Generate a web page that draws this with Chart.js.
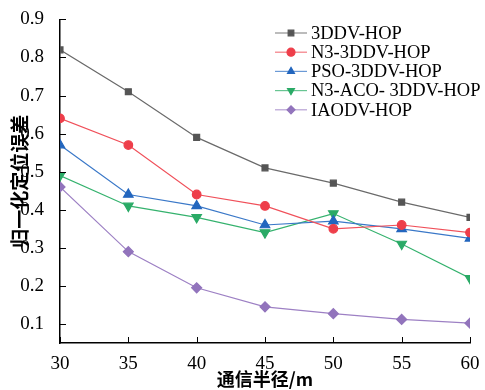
<!DOCTYPE html>
<html lang="zh">
<head>
<meta charset="UTF-8">
<title>归一化定位误差</title>
<script src="https://cdn.jsdelivr.net/npm/chart.js"></script>
<style>
    body { margin: 0; background: #fff; }
    #wrap { width: 485px; height: 390px; }
</style>
</head>
<body>
<div id="wrap"><canvas id="errChart" width="485" height="390"></canvas></div>
<script>
// communication radius (m)
const radius = [30, 35, 40, 45, 50, 55, 60];
const yTicks = [0.1, 0.2, 0.3, 0.4, 0.5, 0.6, 0.7, 0.8, 0.9];

const dv3d     = [0.82, 0.71, 0.59, 0.51, 0.47, 0.42, 0.38];
const n3dv     = [0.64, 0.57, 0.44, 0.41, 0.35, 0.36, 0.34];
const psoDv    = [0.57, 0.44, 0.41, 0.36, 0.37, 0.35, 0.325];
const n3AcoDv  = [0.49, 0.41, 0.38, 0.34, 0.39, 0.31, 0.22];
const iaodv    = [0.46, 0.29, 0.195, 0.145, 0.127, 0.112, 0.102];

const serif = '"Liberation Serif", "DejaVu Serif", serif';
const cjk = '"Noto Sans CJK SC", sans-serif';

function series(label, values, line, fill, style, size, rot) {
    return {
        label: label,
        data: radius.map((x, i) => ({ x: x, y: values[i] })),
        borderColor: line,
        backgroundColor: fill,
        pointBackgroundColor: fill,
        pointBorderColor: fill,
        pointStyle: style,
        pointRadius: size,
        pointRotation: rot || 0,
        borderWidth: 1.2,
        tension: 0
    };
}

// ticks pointing into the plot, like the original figure
const innerTicks = {
    id: 'innerTicks',
    afterDraw(chart) {
        const c = chart.ctx, a = chart.chartArea;
        const xs = chart.scales.x, ys = chart.scales.y;
        c.save();
        c.strokeStyle = '#000';
        c.lineWidth = 1;
        xs.ticks.forEach(t => {
            const px = Math.round(xs.getPixelForValue(t.value)) + 0.5;
            c.beginPath(); c.moveTo(px, a.bottom); c.lineTo(px, a.bottom - 6); c.stroke();
        });
        ys.ticks.forEach(t => {
            const py = Math.round(ys.getPixelForValue(t.value)) + 0.5;
            c.beginPath(); c.moveTo(a.left, py); c.lineTo(a.left + 6, py); c.stroke();
        });
        c.restore();
    }
};

// legend with line-marker-line samples
const lineLegend = {
    id: 'lineLegend',
    afterDraw(chart) {
        const c = chart.ctx;
        const x0 = 275, y0 = 33, gap = 19.2;
        c.save();
        c.font = '18.5px ' + serif;
        c.textBaseline = 'middle';
        chart.data.datasets.forEach((ds, i) => {
            const y = y0 + i * gap;
            c.strokeStyle = ds.borderColor;
            c.globalAlpha = 0.75;
            c.lineWidth = 1.2;
            c.beginPath(); c.moveTo(x0, y); c.lineTo(x0 + 32, y); c.stroke();
            c.globalAlpha = 1;
            c.fillStyle = ds.pointBackgroundColor;
            c.strokeStyle = ds.pointBorderColor;
            Chart.helpers.drawPoint(c, {
                pointStyle: ds.pointStyle, radius: 4, rotation: ds.pointRotation, borderWidth: 1
            }, x0 + 16, y);
            c.fillStyle = '#000';
            c.fillText(ds.label, x0 + 36, y + 1);
        });
        c.restore();
    }
};

new Chart(document.getElementById('errChart'), {
    type: 'line',
    data: {
        datasets: [
            series('3DDV-HOP', dv3d, '#6a6a6a', '#555555', 'rect', 4.2),
            series('N3-3DDV-HOP', n3dv, '#f0505a', '#ee3e4a', 'circle', 4.3),
            series('PSO-3DDV-HOP', psoDv, '#3a78c8', '#2366be', 'triangle', 5.5),
            series('N3-ACO- 3DDV-HOP', n3AcoDv, '#35b26e', '#2aaa66', 'triangle', 5.5, 180),
            series('IAODV-HOP', iaodv, '#9d80c4', '#9274bc', 'rectRot', 5)
        ]
    },
    options: {
        responsive: false,
        animation: false,
        layout: { padding: { top: 13, right: 15, left: 0, bottom: 0 } },
        plugins: { legend: { display: false }, tooltip: { enabled: false } },
        scales: {
            x: {
                type: 'linear',
                min: 30,
                max: 60,
                afterBuildTicks: s => { s.ticks = radius.map(v => ({ value: v })); },
                afterFit: s => { s.height = 47; },
                grid: { display: false },
                border: { display: true, color: '#000', width: 1.5 },
                ticks: { color: '#000', font: { family: serif, size: 19 }, padding: 2 },
                title: {
                    display: true,
                    text: '通信半径/m',
                    color: '#000',
                    font: { family: cjk, size: 18, weight: 'bold' },
                    padding: { top: 0, bottom: 0 }
                }
            },
            y: {
                min: 0.05,
                max: 0.9,
                afterBuildTicks: s => { s.ticks = yTicks.map(v => ({ value: v })); },
                afterFit: s => { s.width = 60; },
                grid: { display: false },
                border: { display: true, color: '#000', width: 1.5 },
                ticks: {
                    color: '#000',
                    font: { family: serif, size: 19 },
                    padding: 8,
                    callback: v => v.toFixed(1)
                },
                title: {
                    display: true,
                    text: '归一化定位误差',
                    color: '#000',
                    font: { family: cjk, size: 19, weight: 'bold' },
                    padding: { top: 8, bottom: 0 }
                }
            }
        }
    },
    plugins: [innerTicks, lineLegend]
});
</script>
</body>
</html>
